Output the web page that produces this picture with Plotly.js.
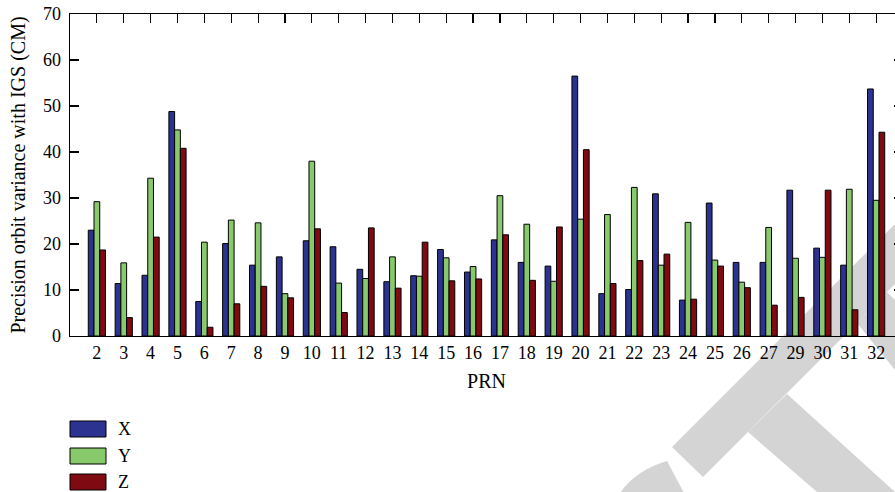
<!DOCTYPE html>
<html>
<head>
<meta charset="utf-8">
<script src="https://cdn.plot.ly/plotly-3.0.1.min.js"></script>
<style>
  html, body { margin: 0; padding: 0; overflow: hidden; background: #fff; }
  #chart { width: 920px; height: 492px; }
</style>
</head>
<body>
<div id="chart"></div>
<script>
// ---- data ----
const prn = ['2','3','4','5','6','7','8','9','10','11','12','13','14','15','16','17','18','19','20','21','22','23','24','25','26','27','29','30','31','32'];
const xVals = [23.0,11.4,13.2,48.8,7.5,20.1,15.4,17.2,20.7,19.4,14.5,11.8,13.1,18.8,13.9,20.9,16.0,15.2,56.5,9.2,10.1,30.9,7.8,28.9,16.0,16.0,31.7,19.1,15.4,53.7];
const yVals = [29.2,15.9,34.3,44.8,20.4,25.2,24.6,9.2,38.0,11.5,12.5,17.2,13.0,17.0,15.1,30.5,24.3,11.9,25.4,26.4,32.3,15.4,24.7,16.5,11.7,23.6,16.9,17.1,31.9,29.5];
const zVals = [18.7,4.0,21.5,40.8,1.9,7.0,10.8,8.3,23.3,5.1,23.5,10.4,20.4,12.0,12.4,22.0,12.1,23.7,40.5,11.4,16.4,17.8,8.0,15.2,10.5,6.7,8.4,31.7,5.7,44.3];
const seriesNames = ['X','Y','Z'];
const seriesColors = ['#2C3290','#88C96C','#800A12'];

// ---- layout geometry ----
const W = 920, H = 492;
const M = {l: 70, r: 17, t: 14, b: 156};
const plotW = W - M.l - M.r, plotH = H - M.t - M.b;
const px = (x) => (x - M.l) / plotW;
const py = (y) => (H - M.b - y) / plotH;
const FONT = '"Liberation Serif", "DejaVu Serif", serif';

function pathFrom(pts) {
  return 'M' + pts.map(p => px(p[0]).toFixed(5) + ',' + py(p[1]).toFixed(5)).join('L') + 'Z';
}

const wmColor = '#D4D4D4';
const shapes = [];
// watermark decoration (drawn under the bars)
[
  [[672,447],[703,477],[895,285],[895,224]],
  [[748,432],[787,394],[895,492],[817,492]],
  [[857,323],[895,285],[895,370]],
].forEach(p => shapes.push({type:'path', xref:'paper', yref:'paper', layer:'below',
  path: pathFrom(p), fillcolor: wmColor, line: {width: 0}}));
shapes.push({type:'path', xref:'paper', yref:'paper', layer:'below',
  path: pathFrom([[887,292],[896,283],[896,301]]), fillcolor: '#ffffff', line: {width: 0}});
shapes.push({type:'path', xref:'paper', yref:'paper', layer:'below',
  path: 'M' + px(620) + ',' + py(493) + 'Q' + px(636) + ',' + py(470) + ' ' + px(667) + ',' + py(461) + 'L' + px(684) + ',' + py(493) + 'Z',
  fillcolor: wmColor, line: {width: 0}});

// custom legend
const annotations = [];
const legTop = [421, 448, 474];
seriesNames.forEach((n, i) => {
  shapes.push({type:'rect', xref:'paper', yref:'paper',
    x0: px(70), x1: px(106), y0: py(legTop[i]), y1: py(legTop[i] + 16),
    fillcolor: seriesColors[i], line: {color: '#000', width: 1}});
  annotations.push({xref:'paper', yref:'paper', x: px(116), y: py(legTop[i] + 8),
    xanchor:'left', yanchor:'middle', text: n, showarrow: false,
    font: {family: FONT, size: 18, color: '#000'}});
});

const traces = [xVals, yVals, zVals].map((v, i) => ({
  type: 'bar', x: prn, y: v, name: seriesNames[i],
  marker: {color: seriesColors[i], line: {color: '#000', width: 1}},
  showlegend: false, hoverinfo: 'x+y'
}));

const layout = {
  width: W, height: H,
  margin: M,
  paper_bgcolor: '#ffffff',
  plot_bgcolor: 'rgba(0,0,0,0)',
  barmode: 'group', bargap: 0.36, bargroupgap: 0,
  font: {family: FONT, size: 18, color: '#000'},
  showlegend: false,
  xaxis: {
    type: 'category', range: [-1, 30], autorange: false,
    showline: true, linecolor: '#000', linewidth: 1.3, mirror: 'ticks',
    ticks: 'inside', ticklen: 9, tickwidth: 1.2, tickcolor: '#000',
    showgrid: false, zeroline: false, layer: 'below traces',
    tickfont: {family: FONT, size: 18},
    title: {text: 'PRN', font: {family: FONT, size: 20}, standoff: 12}
  },
  yaxis: {
    range: [0, 70], autorange: false, dtick: 10, tick0: 0,
    showline: true, linecolor: '#000', linewidth: 1.3, mirror: 'ticks',
    ticks: 'inside', ticklen: 9, tickwidth: 1.2, tickcolor: '#000',
    showgrid: false, zeroline: false, layer: 'below traces',
    tickfont: {family: FONT, size: 18},
    ticklabelstandoff: 4,
    title: {text: 'Precision orbit variance with IGS (CM)', font: {family: FONT, size: 20}, standoff: 12}
  },
  shapes: shapes,
  annotations: annotations
};

Plotly.newPlot('chart', traces, layout, {displayModeBar: false, staticPlot: true});
</script>
</body>
</html>
